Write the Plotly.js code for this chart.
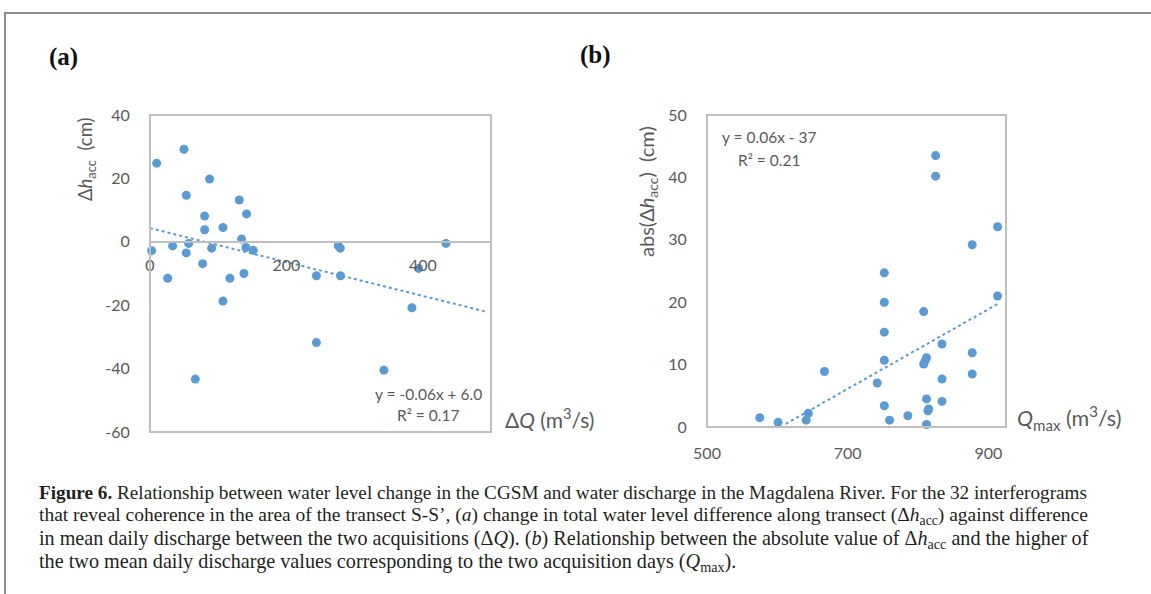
<!DOCTYPE html>
<html>
<head>
<meta charset="utf-8">
<script src="https://cdn.plot.ly/plotly-3.0.1.min.js"></script>
<style>html,body{margin:0;padding:0;background:#fff;}#chart{width:1151px;height:594px;}</style>
</head>
<body>
<div id="chart"></div>
<script>
// ---- Data ----
// Panel (a): ΔQ (m3/s) vs Δh_acc (cm)
var aX = [9.8, 49.8, 87.4, 53.2, 130.9, 141.6, 80.1, 107, 80.1, 134.3, 2.4, 33.2, 56.7, 53.2, 90.4, 140.7, 151.4, 77.2, 25.9, 117.2, 137.7, 107, 66.4, 244, 244, 276, 279, 434, 279.4, 394, 384, 343];
var aY = [24.8, 29.2, 19.8, 14.7, 13.2, 8.8, 8.1, 4.5, 3.8, 0.9, -2.8, -1.3, -0.5, -3.5, -2.0, -1.8, -2.7, -6.9, -11.5, -11.5, -10.0, -18.7, -43.3, -10.7, -31.8, -1.3, -2.0, -0.5, -10.7, -8.4, -20.8, -40.5];
var trendAX = [0, 492];
var trendAY = [4.3, -22.0];
// Panel (b): Qmax (m3/s) vs abs(Δh_acc) (cm)
var bX = [575, 601, 641, 644, 667, 742, 752, 752, 752, 752, 752, 759.5, 785.5, 808, 812, 808, 810, 812, 815, 814, 812, 834, 834, 834, 877, 877, 913, 825, 825, 913, 877];
var bY = [1.5, 0.75, 1.1, 2.2, 8.9, 7.05, 24.7, 20.0, 15.2, 10.7, 3.4, 1.1, 1.8, 18.5, 11.1, 10.1, 10.6, 4.5, 2.9, 2.6, 0.4, 13.3, 7.7, 4.1, 11.9, 8.5, 21.0, 43.5, 40.2, 32.1, 29.2];
var trendBX = [612, 913];
var trendBY = [0.5, 19.7];
// Tick labels
var aXTicks = [0, 200, 400];
var aYTicks = [-60, -40, -20, 0, 20, 40];
var aYTickText = ["-60", "-40", "-20", "0", "20", "40"];
var bXTicks = [500, 700, 900];
var bYTicks = [0, 10, 20, 30, 40, 50];
// Text
var eqA = ["y = -0.06x + 6.0", "R² = 0.17"];
var eqB = ["y = 0.06x - 37", "R² = 0.21"];
var captionLines = [
  "<b>Figure 6.</b> Relationship between water level change in the CGSM and water discharge in the Magdalena River. For the 32 interferograms",
  "that reveal coherence in the area of the transect S-S’, (<i>a</i>) change in total water level difference along transect (Δ<i>h</i><sub>acc</sub>) against difference",
  "in mean daily discharge between the two acquisitions (Δ<i>Q</i>). (<i>b</i>) Relationship between the absolute value of Δ<i>h</i><sub>acc</sub> and the higher of",
  "the two mean daily discharge values corresponding to the two acquisition days (<i>Q</i><sub>max</sub>)."
];

// ---- Layout helpers ----
var W = 1151, H = 594;
function px(x){ return x / W; }
function py(y){ return 1 - y / H; }
var blue = '#5b9bd5', gray = '#595959', boxc = '#bfbfbf';
var sans = 'Lato, "Open Sans", sans-serif';
var serif = '"Liberation Serif", serif';
var axFont = {family: sans, size: 16, color: gray};

var xDomA = [px(150), px(491)], yDomA = [py(432), py(115)];
var xDomB = [px(707), px(1006)], yDomB = [py(427), py(115)];
var aYRange = [-60, 40];
var zeroPos = yDomA[0] + (0 - aYRange[0]) / (aYRange[1] - aYRange[0]) * (yDomA[1] - yDomA[0]);

var traces = [
  {x: aX, y: aY, xaxis: 'x', yaxis: 'y', mode: 'markers', type: 'scatter',
   marker: {color: blue, size: 9}, cliponaxis: false},
  {x: trendAX, y: trendAY, xaxis: 'x', yaxis: 'y', mode: 'lines', type: 'scatter',
   line: {color: blue, width: 2, dash: 'dot'}},
  {x: bX, y: bY, xaxis: 'x2', yaxis: 'y2', mode: 'markers', type: 'scatter',
   marker: {color: blue, size: 9}, cliponaxis: false},
  {x: trendBX, y: trendBY, xaxis: 'x2', yaxis: 'y2', mode: 'lines', type: 'scatter',
   line: {color: blue, width: 2, dash: 'dot'}}
];

var ann = [];
function addText(text, x, y, opts){
  var a = {text: text, x: px(x), y: py(y), xref: 'paper', yref: 'paper', showarrow: false,
           xanchor: 'center', yanchor: 'middle', font: {family: sans, size: 16, color: gray}};
  for (var k in opts) a[k] = opts[k];
  ann.push(a);
}
addText('<b>(a)</b>', 64, 57, {font: {family: serif, size: 25, color: '#111'}});
addText('<b>(b)</b>', 595, 55, {font: {family: serif, size: 25, color: '#111'}});
addText('Δ<i>h</i><sub>acc</sub>  (cm)', 86, 159, {textangle: -90, font: {family: sans, size: 18.5, color: gray}});
addText('Δ<i>Q</i> (m<sup>3</sup>/s)', 549, 418, {font: {family: sans, size: 21, color: gray}});
addText(eqA[0], 428, 394, {font: {family: sans, size: 15.5, color: gray}});
addText(eqA[1], 428, 415, {font: {family: sans, size: 15.5, color: gray}});
addText('abs(Δ<i>h</i><sub>acc</sub>)  (cm)', 647, 192, {textangle: -90, font: {family: sans, size: 20, color: gray}});
addText('<i>Q</i><sub>max</sub> (m<sup>3</sup>/s)', 1069, 418, {font: {family: sans, size: 21.5, color: gray}});
addText(eqB[0], 769, 137, {font: {family: sans, size: 15.5, color: gray}});
addText(eqB[1], 769, 160, {font: {family: sans, size: 15.5, color: gray}});
var capY = [492, 516, 539, 562];
var capSize = [19.2, 19.5, 20.15, 20.2];
captionLines.forEach(function(t, i){
  addText(t, 37, capY[i], {xanchor: 'left', font: {family: serif, size: capSize[i], color: '#231f20'}});
});

var layout = {
  width: W, height: H,
  margin: {l: 0, r: 0, t: 0, b: 0},
  paper_bgcolor: '#fff', plot_bgcolor: '#fff',
  showlegend: false,
  xaxis: {domain: xDomA, range: [0, 500], anchor: 'free', position: zeroPos,
          showline: true, linecolor: boxc, linewidth: 2, showgrid: false, zeroline: false,
          tickvals: aXTicks, ticks: 'outside', ticklen: 9, tickcolor: 'rgba(0,0,0,0)',
          tickfont: axFont, fixedrange: true},
  yaxis: {domain: yDomA, range: aYRange, anchor: 'x', showline: false, showgrid: false, zeroline: false,
          tickvals: aYTicks, ticktext: aYTickText, ticks: 'outside', ticklen: 16, tickcolor: 'rgba(0,0,0,0)',
          tickfont: axFont, fixedrange: true},
  xaxis2: {domain: xDomB, range: [500, 925], anchor: 'y2', showline: false, showgrid: false, zeroline: false,
           tickvals: bXTicks, ticks: 'outside', ticklen: 12, tickcolor: 'rgba(0,0,0,0)',
           tickfont: axFont, fixedrange: true},
  yaxis2: {domain: yDomB, range: [0, 50], anchor: 'x2', showline: false, showgrid: false, zeroline: false,
           tickvals: bYTicks, ticks: 'outside', ticklen: 16, tickcolor: 'rgba(0,0,0,0)',
           tickfont: axFont, fixedrange: true},
  shapes: [
    {type: 'rect', xref: 'x domain', yref: 'y domain', x0: 0, x1: 1, y0: 0, y1: 1, line: {color: boxc, width: 2}},
    {type: 'rect', xref: 'x2 domain', yref: 'y2 domain', x0: 0, x1: 1, y0: 0, y1: 1, line: {color: boxc, width: 2}},
    {type: 'line', xref: 'paper', yref: 'paper', x0: px(4), x1: 1, y0: py(13), y1: py(13), line: {color: '#8c8c8c', width: 2}},
    {type: 'line', xref: 'paper', yref: 'paper', x0: px(5), x1: px(5), y0: py(12), y1: 0, line: {color: '#8c8c8c', width: 2}}
  ],
  annotations: ann
};

Plotly.newPlot('chart', traces, layout, {staticPlot: true, displayModeBar: false});
</script>
</body>
</html>
